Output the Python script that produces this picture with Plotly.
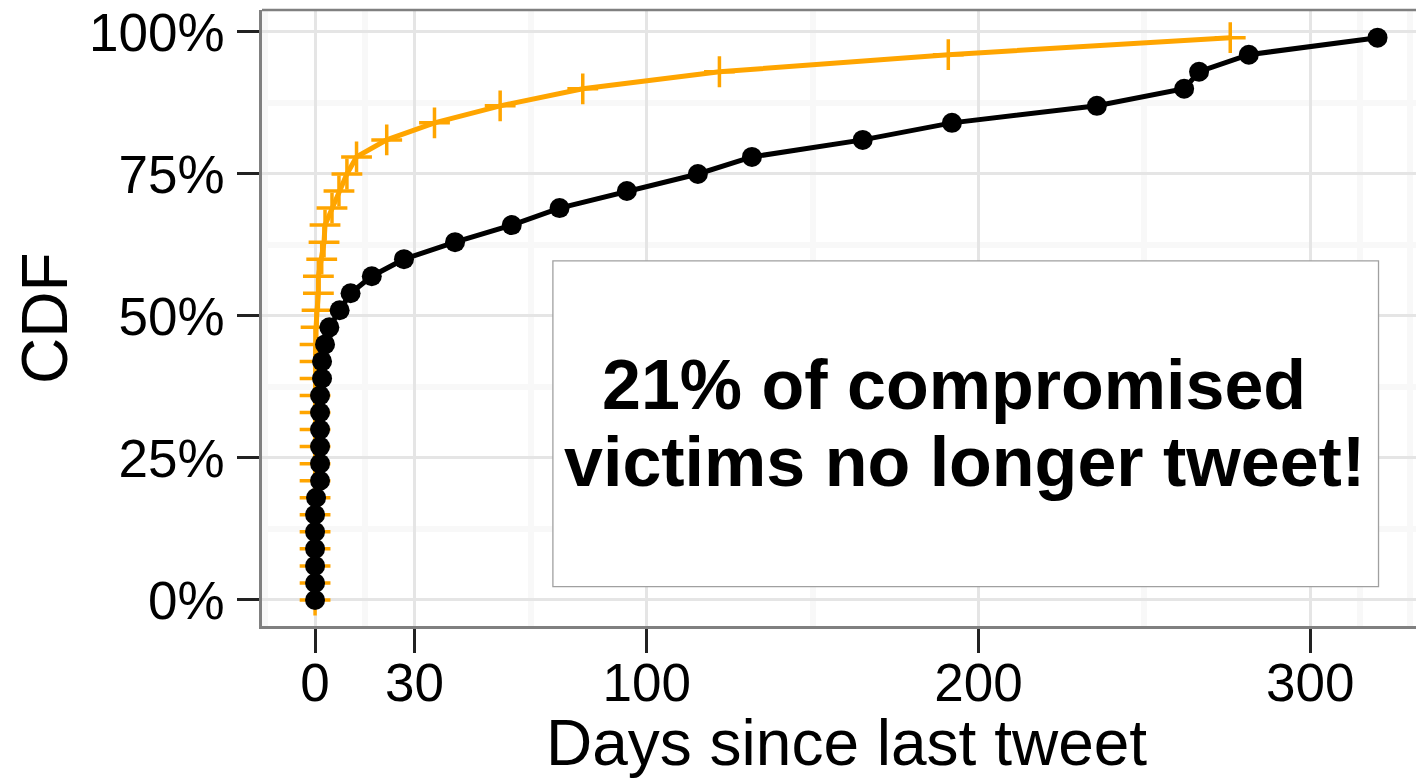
import plotly.graph_objects as go

# ---------------- data ----------------
cdf_pct = [0, 3, 6, 9, 12, 15, 18, 21, 24, 27, 30, 33, 36, 39, 42, 45, 48,
           51, 54, 57, 60, 63, 66, 69, 72, 75, 78, 81, 84, 87, 90, 93, 96, 99]

# black series (circles)
black_days = [0, 0, 0, 0, 0, 0, 0.3, 1.5, 1.5, 1.5, 1.5, 1.5, 1.5, 2.1, 2.1, 3.0, 4.3,
              7.4, 10.7, 17.1, 26.8, 42.2, 59.3, 73.7, 94.0, 115.4, 131.7, 165.1,
              192.0, 235.7, 262.0, 266.5, 281.5, 320.3]

# orange series (crosses)
orange_days = [0, 0, 0, 0, 0, 0, 0, 0, 0, 0, 0, 0, 0, 0, 0, 0, 0.3,
               0.6, 1.0, 1.0, 2.0, 2.7, 3.0, 5.1, 7.2, 9.6, 12.5, 21.6,
               36.0, 55.8, 80.7, 121.9, 190.9, 275.9]

x_tick_vals = [0, 30, 100, 200, 300]
x_tick_text = ["0", "30", "100", "200", "300"]
x_minor_vals = [-15, 15, 65, 150, 250, 315, 330]
y_tick_vals = [0, 25, 50, 75, 100]
y_tick_text = ["0%", "25%", "50%", "75%", "100%"]
y_minor_vals = [12.5, 37.5, 62.5, 87.5]

x_title = "Days since last tweet"
y_title = "CDF"
note_line1 = "21% of compromised"
note_line2 = "victims no longer tweet!"

FONT = "Liberation Sans, Arial, Helvetica, sans-serif"
ORANGE = "#FFA500"

fig = go.Figure()
fig.add_trace(go.Scatter(
    x=orange_days, y=cdf_pct, mode="lines+markers",
    line=dict(color=ORANGE, width=5),
    marker=dict(symbol="cross-thin", size=22, color=ORANGE,
                line=dict(color=ORANGE, width=3.5)),
    showlegend=False, cliponaxis=False,
))
fig.add_trace(go.Scatter(
    x=black_days, y=cdf_pct, mode="lines+markers",
    line=dict(color="black", width=5),
    marker=dict(symbol="circle", size=20, color="black"),
    showlegend=False, cliponaxis=False,
))

fig.update_layout(
    width=1416, height=778,
    margin=dict(l=262, r=0, t=10, b=152, pad=0),
    plot_bgcolor="white", paper_bgcolor="white",
    font=dict(family=FONT, color="black"),
    xaxis=dict(
        range=[-16, 331.9],
        tickmode="array", tickvals=x_tick_vals, ticktext=x_tick_text,
        ticks="outside", ticklen=24, tickwidth=2.5, tickcolor="#222",
        tickfont=dict(size=53, family=FONT, color="black"),
        ticklabelstandoff=-15,
        showline=True, linecolor="#808080", linewidth=2.5,
        showgrid=True, gridcolor="#e5e5e5", gridwidth=2.5,
        zeroline=False,
        minor=dict(tickvals=x_minor_vals, showgrid=True, gridcolor="#f8f8f8", gridwidth=6),
        layer="below traces",
    ),
    yaxis=dict(
        range=[-4.58, 103.87],
        tickmode="array", tickvals=y_tick_vals, ticktext=y_tick_text,
        ticks="outside", ticklen=22, tickwidth=2.5, tickcolor="#222",
        tickfont=dict(size=53, family=FONT, color="black"),
        ticklabelstandoff=2,
        showline=True, linecolor="#808080", linewidth=2.5,
        showgrid=True, gridcolor="#e5e5e5", gridwidth=2.5,
        zeroline=False,
        minor=dict(tickvals=y_minor_vals, showgrid=True, gridcolor="#f8f8f8", gridwidth=6),
        layer="below traces",
    ),
    shapes=[
        dict(type="line", xref="paper", yref="paper", x0=0, x1=1, y0=1, y1=1,
             line=dict(color="#808080", width=2.5), layer="above"),
        dict(type="rect", xref="x", yref="y", x0=71.7, x1=320.6, y0=2.34, y1=59.7,
             fillcolor="white", line=dict(color="#a0a0a0", width=1.3), layer="above"),
    ],
    annotations=[
        dict(text=x_title, xref="paper", yref="paper", x=0.5065, y=-0.19,
             xanchor="center", yanchor="middle", showarrow=False,
             font=dict(size=64, family=FONT, color="black")),
        dict(text=y_title, xref="paper", yref="paper", x=-0.188, y=0.5,
             xanchor="center", yanchor="middle", showarrow=False, textangle=-90,
             font=dict(size=64, family=FONT, color="black")),
        dict(text="<b>" + note_line1 + "</b>", xref="x", yref="y", x=192.6, y=37.9,
             xanchor="center", yanchor="middle", showarrow=False,
             font=dict(size=70, family=FONT, color="black")),
        dict(text="<b>" + note_line2 + "</b>", xref="x", yref="y", x=195.7, y=24.3,
             xanchor="center", yanchor="middle", showarrow=False,
             font=dict(size=70, family=FONT, color="black")),
    ],
)

fig.write_html("out.html")
